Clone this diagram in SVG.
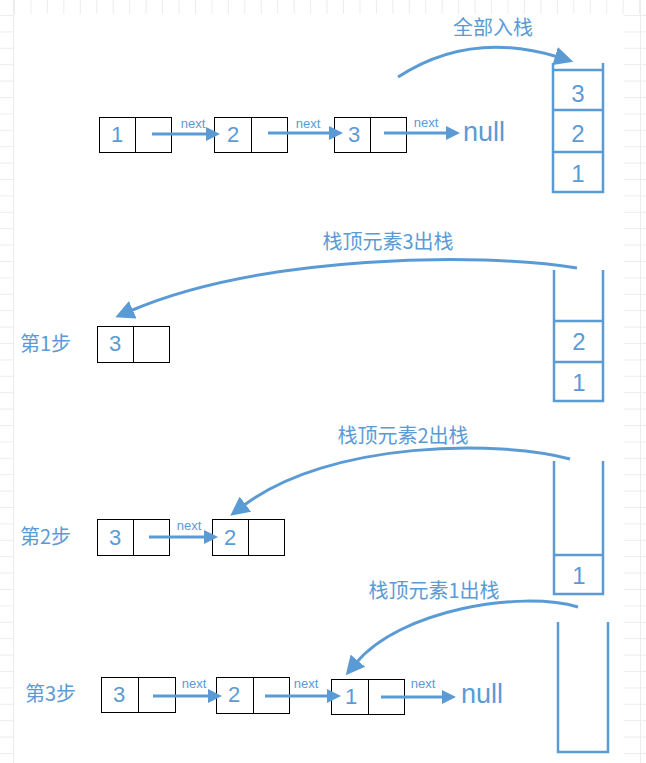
<svg xmlns="http://www.w3.org/2000/svg" width="646" height="763" viewBox="0 0 646 763">
<defs>
<style>
.box{fill:#fff;stroke:#000;stroke-width:1}
.dv{stroke:#000;stroke-width:1}
.num{font-family:"Liberation Sans",Arial,sans-serif;font-size:22px;fill:#5b9bd5;text-anchor:middle}
.snum{font-family:"Liberation Sans",Arial,sans-serif;font-size:24px;fill:#5b9bd5;text-anchor:middle}
.nxt{font-family:"Liberation Sans",Arial,sans-serif;font-size:13px;fill:#5b9bd5;text-anchor:middle}
.nul{font-family:"Liberation Sans",Arial,sans-serif;font-size:27px;fill:#5b9bd5}
.cjk{font-family:"Noto Sans CJK SC","Liberation Sans",sans-serif;font-size:20px;fill:#5b9bd5}
.stk{fill:none;stroke:#5b9bd5;stroke-width:2.5}
.arr{fill:none;stroke:#5b9bd5;stroke-width:3;marker-end:url(#ah)}
.crv{fill:none;stroke:#5b9bd5;stroke-width:3;marker-end:url(#ahb)}
.grid{stroke:#ececec;stroke-width:1;fill:none}
</style>
<marker id="ah" markerUnits="userSpaceOnUse" markerWidth="14" markerHeight="14" refX="2" refY="7" orient="auto"><path d="M0,0 L14,7 L0,14 z" fill="#5b9bd5"/></marker>
<marker id="ahb" markerUnits="userSpaceOnUse" markerWidth="19" markerHeight="19" refX="3" refY="9.5" orient="auto"><path d="M0,0 L19,9.5 L0,19 z" fill="#5b9bd5"/></marker>
<pattern id="gh" patternUnits="userSpaceOnUse" x="0" y="15" width="646" height="16.4"><path d="M0,0.5 H646" class="grid"/></pattern>
<pattern id="gv" patternUnits="userSpaceOnUse" x="14" y="0" width="16.45" height="14"><path d="M0.5,0 V14" class="grid"/></pattern>
</defs>
<rect width="646" height="763" fill="#fff"/>
<g id="grid">
<rect x="0" y="0" width="13" height="763" fill="url(#gh)"/>
<rect x="624" y="0" width="22" height="763" fill="url(#gh)"/>
<rect x="13" y="0" width="628" height="14" fill="url(#gv)"/>
<path class="grid" d="M13.5,0 V763 M640.5,0 V763"/>
</g>

<g id="row1">
<g id="r1n1"><rect class="box" x="99.5" y="117.5" width="72" height="35"/><path class="dv" d="M135.5,117.5 V152.5"/><text class="num" x="117" y="142">1</text></g>
<g id="r1n2"><rect class="box" x="214.5" y="117.5" width="73" height="35"/><path class="dv" d="M251.5,117.5 V152.5"/><text class="num" x="233" y="142">2</text></g>
<g id="r1n3"><rect class="box" x="334.5" y="117.5" width="72" height="35"/><path class="dv" d="M370.5,117.5 V152.5"/><text class="num" x="354" y="142">3</text></g>
<text class="nul" x="463" y="141">null</text>
<text class="nxt" x="193" y="128">next</text>
<text class="nxt" x="308" y="128">next</text>
<text class="nxt" x="426" y="127">next</text>
</g>

<g id="stack1">
<path class="stk" d="M553,63 V192 H603 V63 M553,70 H603 M553,110 H603 M553,152 H603"/>
<text class="snum" x="578" y="102">3</text>
<text class="snum" x="578" y="142">2</text>
<text class="snum" x="578" y="182">1</text>
</g>
<text id="t1" class="cjk" x="493" y="35" text-anchor="middle">全部入栈</text>

<g id="row2">
<text class="cjk" x="20" y="351">第1步</text>
<g id="r2n3"><rect class="box" x="97.5" y="326.5" width="72" height="36"/><path class="dv" d="M133.5,326.5 V362.5"/><text class="num" x="115" y="351">3</text></g>
</g>
<g id="stack2">
<path class="stk" d="M554,270 V401 H603 V270 M554,321 H603 M554,362 H603"/>
<text class="snum" x="579" y="350">2</text>
<text class="snum" x="579" y="391">1</text>
</g>
<text id="t2" class="cjk" x="388" y="249" text-anchor="middle">栈顶元素3出栈</text>

<g id="row3">
<text class="cjk" x="20" y="544">第2步</text>
<g id="r3n3"><rect class="box" x="97.5" y="519.5" width="72" height="36"/><path class="dv" d="M133.5,519.5 V555.5"/><text class="num" x="115" y="545">3</text></g>
<g id="r3n2"><rect class="box" x="212.5" y="519.5" width="72" height="36"/><path class="dv" d="M248.5,519.5 V555.5"/><text class="num" x="230" y="545">2</text></g>
<text class="nxt" x="189" y="530">next</text>
</g>
<g id="stack3">
<path class="stk" d="M554,461 V594 H603 V461 M554,555 H603"/>
<text class="snum" x="579" y="584">1</text>
</g>
<text id="t3" class="cjk" x="403" y="443" text-anchor="middle">栈顶元素2出栈</text>

<g id="row4">
<text class="cjk" x="25" y="701">第3步</text>
<g id="r4n3"><rect class="box" x="101.5" y="677.5" width="74" height="35"/><path class="dv" d="M138.5,677.5 V712.5"/><text class="num" x="119" y="702">3</text></g>
<g id="r4n2"><rect class="box" x="216.5" y="677.5" width="73" height="36"/><path class="dv" d="M253.5,677.5 V713.5"/><text class="num" x="234" y="702">2</text></g>
<g id="r4n1"><rect class="box" x="331.5" y="679.5" width="73" height="35"/><path class="dv" d="M368.5,679.5 V714.5"/><text class="num" x="351" y="704">1</text></g>
<text class="nxt" x="194" y="688">next</text>
<text class="nxt" x="306" y="688">next</text>
<text class="nxt" x="423" y="688">next</text>
<text class="nul" x="461" y="703">null</text>
</g>
<g id="stack4">
<path class="stk" d="M558,622 V752 H608 V622"/>
</g>
<text id="t4" class="cjk" x="434" y="598" text-anchor="middle">栈顶元素1出栈</text>

<g id="connectors">
<path class="arr" d="M152,134 H208"/>
<path class="arr" d="M268,133 H331"/>
<path class="arr" d="M384,133 H448"/>
<path class="arr" d="M149,537 H206"/>
<path class="arr" d="M153,696 H210"/>
<path class="arr" d="M265,696 H329"/>
<path class="arr" d="M381,697 H444"/>
<path class="crv" d="M398,77 Q470,30 558,57"/>
<path class="crv" d="M577,268 C480,252 260,255 130,311"/>
<path class="crv" d="M570,459 C500,440 330,440 243,506"/>
<path class="crv" d="M578,607 C520,590 400,610 356,663"/>
</g>
</svg>
